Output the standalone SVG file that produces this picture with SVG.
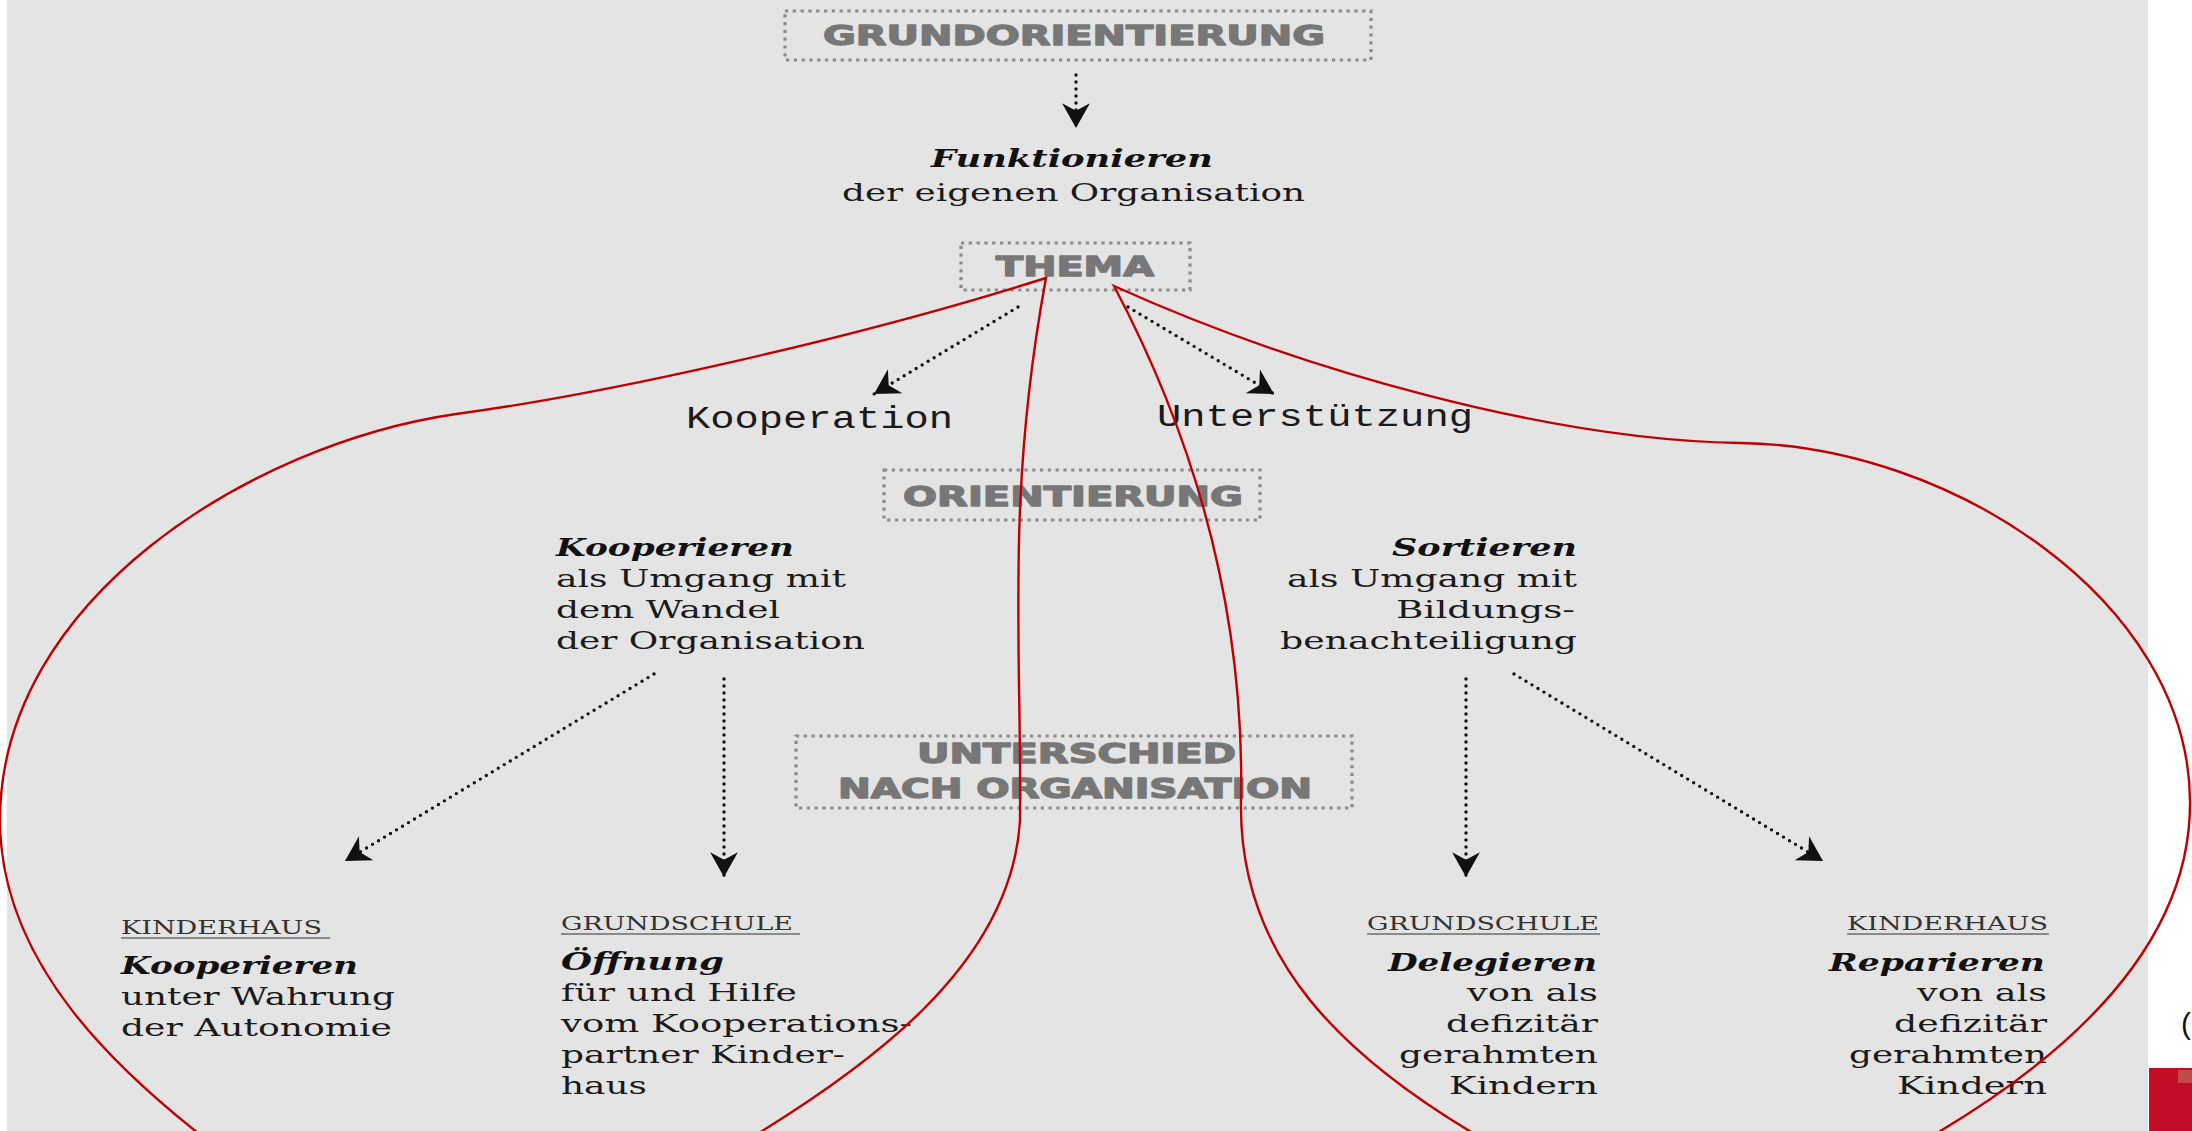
<svg xmlns="http://www.w3.org/2000/svg" width="2192" height="1131" viewBox="0 0 2192 1131">
<style>
.hdr{font-family:"DejaVu Sans","Liberation Sans",sans-serif;font-weight:bold;fill:#777;stroke:#777;stroke-width:1.3;stroke-linejoin:round}
.box{fill:none;stroke:#8c8c8c;stroke-width:3.2;stroke-dasharray:3.2 4.6}
.bi{font-family:"DejaVu Serif","Liberation Serif",serif;font-weight:bold;font-style:italic;fill:#111;font-size:24px}
.rg{font-family:"DejaVu Serif","Liberation Serif",serif;fill:#1a1a1a;font-size:25px}
.mono{font-family:"Liberation Mono","DejaVu Sans Mono",monospace;fill:#1a1a1a;font-size:31px}
.lbl{font-family:"DejaVu Serif","Liberation Serif",serif;fill:#333;font-size:18px}
.ul{stroke:#8a8a8a;stroke-width:2.2}
.dot{fill:none;stroke:#111;stroke-width:3.4;stroke-dasharray:0 7;stroke-linecap:round}
.red{fill:none;stroke:#c00000;stroke-width:2.4}
</style>
<defs>
<marker id="ah" markerUnits="userSpaceOnUse" markerWidth="30" markerHeight="30" viewBox="-24 -14 26 28" refX="0" refY="0" orient="auto">
<path d="M0,0 L-23,-13 L-16,0 L-23,13 Z" fill="#111"/>
</marker>
</defs>
<rect x="0" y="0" width="2192" height="1131" fill="#ffffff"/>
<rect x="7" y="0" width="2141" height="1131" fill="#e4e4e4"/>
<rect x="2149" y="1068" width="43" height="63" fill="#c40c26"/>
<rect x="2178" y="1070" width="14" height="13" fill="#c44848"/>
<text x="2181" y="1034" style="font-family:'Liberation Sans',sans-serif;font-size:30px;fill:#111">(</text>

<g id="connectors">
<line class="dot" x1="1076" y1="75" x2="1076" y2="128" marker-end="url(#ah)"/>
<line class="dot" x1="1018" y1="307" x2="874" y2="394" marker-end="url(#ah)"/>
<line class="dot" x1="1128" y1="307" x2="1274" y2="394" marker-end="url(#ah)"/>
<line class="dot" x1="654" y1="674" x2="345" y2="861" marker-end="url(#ah)"/>
<line class="dot" x1="724" y1="679" x2="724" y2="877" marker-end="url(#ah)"/>
<line class="dot" x1="1466" y1="679" x2="1466" y2="877" marker-end="url(#ah)"/>
<line class="dot" x1="1514" y1="674" x2="1823" y2="861" marker-end="url(#ah)"/>
</g>

<g id="grundorientierung">
<rect class="box" x="785" y="11" width="586" height="49"/>
<text class="hdr" x="823" y="45" font-size="27" textLength="502" lengthAdjust="spacingAndGlyphs">GRUNDORIENTIERUNG</text>
</g>
<g id="funktionieren">
<text class="bi" x="931" y="167" textLength="282" lengthAdjust="spacingAndGlyphs">Funktionieren</text>
<text class="rg" x="842" y="201" textLength="463" lengthAdjust="spacingAndGlyphs">der eigenen Organisation</text>
</g>
<g id="thema">
<rect class="box" x="961" y="243" width="229" height="47"/>
<text class="hdr" x="996" y="276" font-size="26" textLength="158" lengthAdjust="spacingAndGlyphs">THEMA</text>
</g>
<g id="kooperation">
<text class="mono" x="686" y="428" textLength="267" lengthAdjust="spacingAndGlyphs">Kooperation</text>
</g>
<g id="unterstuetzung">
<text class="mono" x="1157" y="426" textLength="316" lengthAdjust="spacingAndGlyphs">Unterstützung</text>
</g>
<g id="orientierung">
<rect class="box" x="884" y="470" width="376" height="50"/>
<text class="hdr" x="903" y="506" font-size="26" textLength="340" lengthAdjust="spacingAndGlyphs">ORIENTIERUNG</text>
</g>
<g id="kooperieren">
<text class="bi" x="556" y="556" textLength="238" lengthAdjust="spacingAndGlyphs">Kooperieren</text>
<text class="rg" x="556" y="587" textLength="290" lengthAdjust="spacingAndGlyphs">als Umgang mit</text>
<text class="rg" x="556" y="618" textLength="224" lengthAdjust="spacingAndGlyphs">dem Wandel</text>
<text class="rg" x="556" y="649" textLength="309" lengthAdjust="spacingAndGlyphs">der Organisation</text>
</g>
<g id="sortieren">
<text class="bi" x="1392" y="556" textLength="185" lengthAdjust="spacingAndGlyphs">Sortieren</text>
<text class="rg" x="1287" y="587" textLength="290" lengthAdjust="spacingAndGlyphs">als Umgang mit</text>
<text class="rg" x="1396" y="618" textLength="179" lengthAdjust="spacingAndGlyphs">Bildungs-</text>
<text class="rg" x="1280" y="649" textLength="297" lengthAdjust="spacingAndGlyphs">benachteiligung</text>
</g>
<g id="unterschied">
<rect class="box" x="796" y="736" width="556" height="72"/>
<text class="hdr" x="917" y="763" font-size="26" textLength="319" lengthAdjust="spacingAndGlyphs">UNTERSCHIED</text>
<text class="hdr" x="838" y="798" font-size="26" textLength="474" lengthAdjust="spacingAndGlyphs">NACH ORGANISATION</text>
</g>
<g id="kinderhaus-kooperieren">
<text class="lbl" x="121" y="934" textLength="201" lengthAdjust="spacingAndGlyphs">KINDERHAUS</text>
<line class="ul" x1="121" y1="938" x2="330" y2="938"/>
<text class="bi" x="121" y="974" textLength="237" lengthAdjust="spacingAndGlyphs">Kooperieren</text>
<text class="rg" x="121" y="1005" textLength="274" lengthAdjust="spacingAndGlyphs">unter Wahrung</text>
<text class="rg" x="121" y="1036" textLength="271" lengthAdjust="spacingAndGlyphs">der Autonomie</text>
</g>
<g id="grundschule-oeffnung">
<text class="lbl" x="561" y="930" textLength="232" lengthAdjust="spacingAndGlyphs">GRUNDSCHULE</text>
<line class="ul" x1="561" y1="934" x2="800" y2="934"/>
<text class="bi" x="561" y="970" textLength="163" lengthAdjust="spacingAndGlyphs">Öffnung</text>
<text class="rg" x="561" y="1001" textLength="236" lengthAdjust="spacingAndGlyphs">für und Hilfe</text>
<text class="rg" x="561" y="1032" textLength="351" lengthAdjust="spacingAndGlyphs">vom Kooperations-</text>
<text class="rg" x="561" y="1063" textLength="284" lengthAdjust="spacingAndGlyphs">partner Kinder-</text>
<text class="rg" x="561" y="1094" textLength="86" lengthAdjust="spacingAndGlyphs">haus</text>
</g>
<g id="grundschule-delegieren">
<text class="lbl" x="1367" y="930" textLength="232" lengthAdjust="spacingAndGlyphs">GRUNDSCHULE</text>
<line class="ul" x1="1367" y1="934" x2="1600" y2="934"/>
<text class="bi" x="1388" y="971" textLength="209" lengthAdjust="spacingAndGlyphs">Delegieren</text>
<text class="rg" x="1467" y="1001" textLength="131" lengthAdjust="spacingAndGlyphs">von als</text>
<text class="rg" x="1446" y="1032" textLength="152" lengthAdjust="spacingAndGlyphs">defizitär</text>
<text class="rg" x="1399" y="1063" textLength="199" lengthAdjust="spacingAndGlyphs">gerahmten</text>
<text class="rg" x="1449" y="1094" textLength="149" lengthAdjust="spacingAndGlyphs">Kindern</text>
</g>
<g id="kinderhaus-reparieren">
<text class="lbl" x="1847" y="930" textLength="201" lengthAdjust="spacingAndGlyphs">KINDERHAUS</text>
<line class="ul" x1="1847" y1="934" x2="2049" y2="934"/>
<text class="bi" x="1829" y="971" textLength="216" lengthAdjust="spacingAndGlyphs">Reparieren</text>
<text class="rg" x="1917" y="1001" textLength="130" lengthAdjust="spacingAndGlyphs">von als</text>
<text class="rg" x="1894" y="1032" textLength="153" lengthAdjust="spacingAndGlyphs">defizitär</text>
<text class="rg" x="1849" y="1063" textLength="198" lengthAdjust="spacingAndGlyphs">gerahmten</text>
<text class="rg" x="1897" y="1094" textLength="150" lengthAdjust="spacingAndGlyphs">Kindern</text>
</g>

<g id="loops">
<path class="red" d="M1046,278 C850,340 600,395 456,414 C250,444 0,600 0,820 C0,960 110,1070 240,1165 L705,1165 C880,1065 1012,960 1020,820 C1022,650 1005,500 1046,278 Z"/>
<path class="red" d="M1114,286 C1300,370 1550,440 1740,443 C1950,445 2188,600 2190,800 C2192,950 2060,1070 1880,1165 L1530,1165 C1330,1060 1238,950 1241,800 C1245,600 1190,430 1114,286 Z"/>
</g>
</svg>
